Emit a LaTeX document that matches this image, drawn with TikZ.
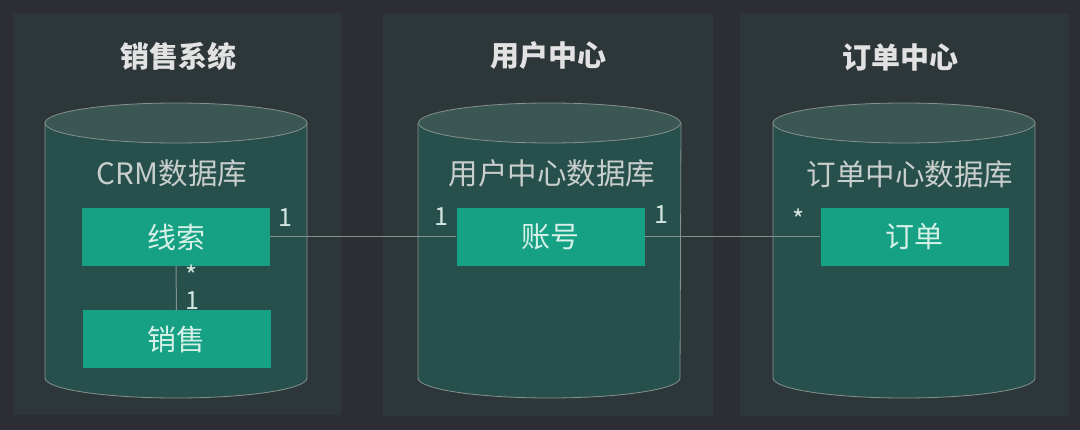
\documentclass[tikz,border=0pt]{standalone}
\usepackage{fontspec}
\setmainfont{Noto Sans CJK SC}
\definecolor{bgc}{HTML}{2C2E33}
\definecolor{panelc}{HTML}{2D3739}
\definecolor{sidec}{HTML}{27504C}
\definecolor{topc}{HTML}{3A5754}
\definecolor{edgec}{HTML}{86918D}
\definecolor{boxc}{HTML}{16A084}
\definecolor{boxtxt}{HTML}{D5F0E7}
\definecolor{titlec}{HTML}{E2E2E2}
\definecolor{dbtxt}{HTML}{C8CECB}
\definecolor{multc}{HTML}{D2E6DF}
\tikzset{
  panel/.style={fill=panelc},
  ent/.style={fill=boxc, text=boxtxt, minimum width=188pt, minimum height=58pt, inner sep=0pt, font=\fontsize{29}{31}\selectfont},
  ttl/.style={text=titlec, font=\fontsize{29}{31}\selectfont\bfseries},
  dblabel/.style={text=dbtxt, font=\fontsize{29.5}{31}\selectfont},
  mult/.style={text=multc, font=\fontsize{25}{27}\selectfont, inner sep=0pt, text height=18pt, text depth=0pt},
  star/.style={text=multc, font=\fontsize{26}{28}\selectfont, inner sep=0pt, text height=14pt, text depth=0pt},
  conn/.style={draw=edgec, line width=1pt},
}
\newcommand{\dbcyl}[3]{% left, right, center-x
  \fill[sidec] (#1,123) -- (#1,378) arc[start angle=180, end angle=360, x radius=131pt, y radius=20pt] -- (#2,123) -- cycle;
  \draw[edgec, line width=0.8pt] (#1,123) -- (#1,378) arc[start angle=180, end angle=360, x radius=131pt, y radius=20pt] -- (#2,123);
  \draw[edgec, line width=0.8pt, fill=topc] (#3,123) ellipse[x radius=131pt, y radius=20pt];
}
\begin{document}
\begin{tikzpicture}[x=1pt,y=-1pt]
\fill[bgc] (0,0) rectangle (1080,430);
\useasboundingbox (0,0) rectangle (1080,430);
% panels
\fill[panel] (13,13) rectangle (342,415);
\fill[panel] (383,14) rectangle (713,416);
\fill[panel] (740,14) rectangle (1069,416);
% titles
\node[ttl] (t1) at (178,56) {销售系统};
\node[ttl] (t2) at (548,56) {用户中心};
\node[ttl] (t3) at (900,57) {订单中心};
% cylinders
\dbcyl{45}{307}{176}
\dbcyl{418}{681}{549.5}
\dbcyl{773}{1035}{904}
% db labels
\node[dblabel] (d1) at (172,173) {CRM数据库};
\node[dblabel] (d2) at (552,173) {用户中心数据库};
\node[dblabel] (d3) at (910,174) {订单中心数据库};
% entities
\node[ent] (xs) at (176,237) {线索};
\node[ent] (xsale) at (176.5,339.5) {销售};
\node[ent] (zh) at (550.5,237) {账号};
\node[ent] (dd) at (914.5,237) {订单};
% connectors
\draw[conn] (xs.east) -- (zh.west);
\draw[conn] (zh.east) -- (dd.west);
\draw[conn] (xs.south) -- (xsale.north);
% multiplicities
\node[mult] (m1) at (285,218) {1};
\node[mult] (m2) at (441,217) {1};
\node[mult] (m3) at (661,215) {1};
\node[star] (m4) at (799,223) {*};
\node[star] (m5) at (192,279) {*};
\node[mult] (m6) at (192,301) {1};
\end{tikzpicture}
\end{document}
